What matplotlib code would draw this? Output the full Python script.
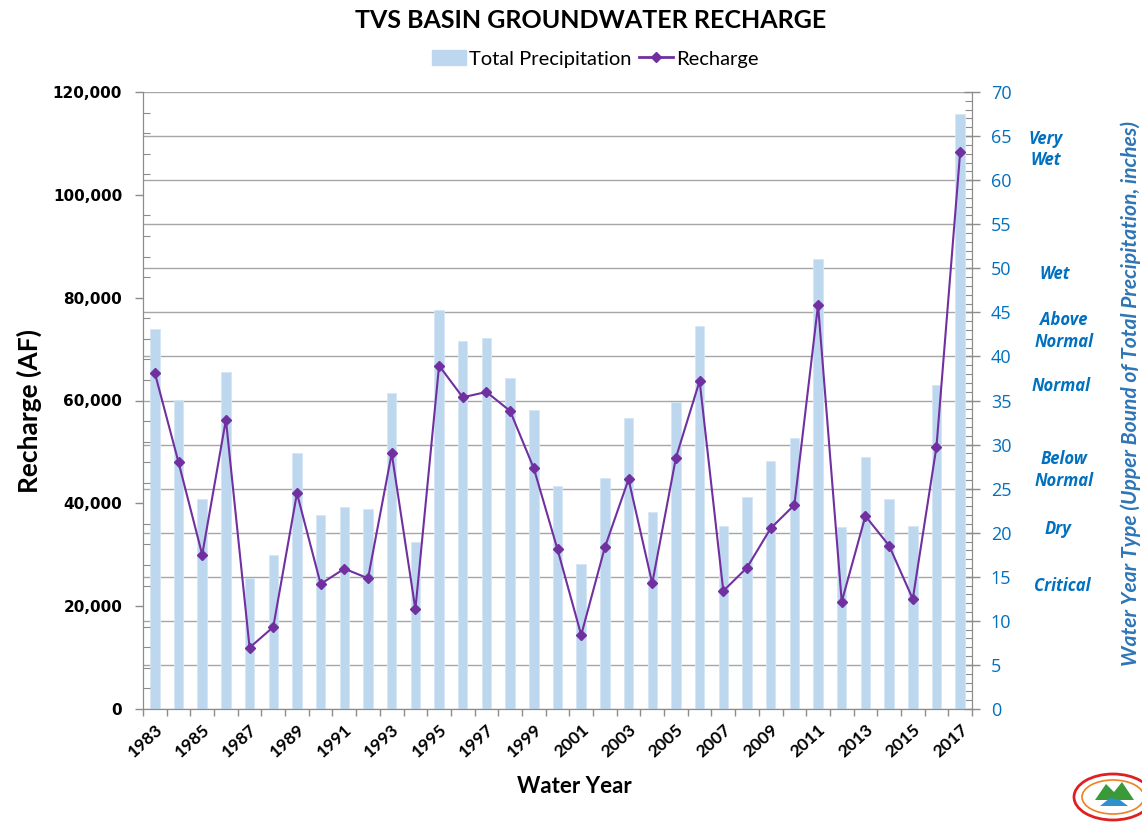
import matplotlib
matplotlib.use('Agg')
import matplotlib.pyplot as plt
from matplotlib.patches import Ellipse, Polygon, Patch
from matplotlib.lines import Line2D
from matplotlib.ticker import FuncFormatter, MultipleLocator, FixedLocator
import numpy as np

# ---------------- data ----------------
years = list(range(1983, 2018))
precip_in = [43.1, 35.1, 23.8, 38.2, 14.9, 17.5, 29.0, 22.0, 22.9, 22.7,
             35.9, 19.0, 45.3, 41.8, 42.1, 37.6, 33.9, 25.3, 16.4, 26.2,
             33.0, 22.4, 34.8, 43.5, 20.8, 24.1, 28.1, 30.7, 51.1, 20.6,
             28.6, 23.8, 20.8, 36.8, 67.5]
recharge_af = [65350, 47980, 30010, 56270, 11930, 15950, 41950, 24310, 27290, 25420,
               49730, 19390, 66780, 60620, 61660, 57960, 46810, 31060, 14390, 31450,
               44670, 24440, 48880, 63800, 22950, 27490, 35140, 39680, 78580, 20870,
               37540, 31770, 21400, 51020, 108280]
year_types = ["Very\nWet", "Wet", "Above\nNormal", "Normal", "Below\nNormal", "Dry", "Critical"]
type_label_y = [63.5, 49.3, 42.9, 36.6, 27.1, 20.4, 14.0]      # right-axis units
type_label_x = [1046, 1055, 1064, 1061, 1064, 1058, 1062]      # centre, pixels

# ---------------- style ----------------
sans = ['Lato', 'DejaVu Sans']
bar_color = "#BDD7EE"
line_color = "#7030A0"
axis_gray = "#8C8C8C"
blue = "#0070C0"

W, H = 1142, 824
fig = plt.figure(figsize=(W / 100, H / 100), dpi=100, facecolor="white")
rect = [143 / W, 1 - 709 / H, (972 - 143) / W, (709 - 92) / H]
ax = fig.add_axes(rect)
ax2 = ax.twinx()
ax.set_zorder(ax2.get_zorder() + 1)
ax.patch.set_visible(False)

x = np.arange(len(years))

# bars on right axis
ax2.bar(x, precip_in, width=0.40, color=bar_color, edgecolor="#D6E6F4", linewidth=0.6, zorder=2)
ax2.set_ylim(0, 70)
ax2.yaxis.set_major_locator(MultipleLocator(5))
ax2.yaxis.set_minor_locator(MultipleLocator(1))
ax2.grid(True, which="major", axis="y", color="#A6A6A6", linewidth=1.0)
ax2.set_axisbelow(True)
ax2.tick_params(axis="y", which="major", direction="inout", length=11, width=1,
                color=axis_gray, labelcolor=blue, labelsize=13, pad=8)
ax2.tick_params(axis="y", which="minor", direction="in", length=5, width=0.8, color=axis_gray)
for lab in ax2.get_yticklabels():
    lab.set_fontfamily("Open Sans")

# recharge line on left axis
ax.plot(x, recharge_af, color=line_color, linewidth=1.5, marker="D", markersize=5.5,
        markerfacecolor=line_color, markeredgecolor=line_color, zorder=5)
ax.set_ylim(0, 120000)
ax.set_xlim(-0.5, len(years) - 0.5)
ax.yaxis.set_major_locator(MultipleLocator(20000))
ax.yaxis.set_minor_locator(MultipleLocator(4000))
ax.yaxis.set_major_formatter(FuncFormatter(lambda v, p: f"{int(v):,}"))
ax.tick_params(axis="y", which="major", direction="out", length=6, width=1,
               color=axis_gray, labelsize=11, pad=9)
ax.tick_params(axis="y", which="minor", direction="in", length=5, width=0.8, color=axis_gray)
for lab in ax.get_yticklabels():
    lab.set_fontweight("bold")
    lab.set_fontfamily("DejaVu Sans")

# x ticks: labels every other year, tick marks between categories
ax.xaxis.set_major_locator(FixedLocator(x[::2]))
ax.set_xticklabels([str(y) for y in years[::2]], rotation=42, ha="right",
                   rotation_mode="anchor", fontsize=12.5, fontweight="bold", family=sans)
ax.xaxis.set_minor_locator(FixedLocator(np.arange(-0.5, len(years), 1.0)))
ax.tick_params(axis="x", which="major", length=0, pad=9)
ax.tick_params(axis="x", which="minor", direction="out", length=5, width=1, color=axis_gray)
ax2.set_xlim(ax.get_xlim())

for a in (ax, ax2):
    for s in a.spines.values():
        s.set_color(axis_gray)
    a.spines["top"].set_visible(False)

# ---------------- text ----------------
fig.text(591 / W, 1 - 20 / H, "TVS BASIN GROUNDWATER RECHARGE", ha="center", va="center",
         fontsize=18, fontweight="bold", family=sans)
ax.set_ylabel("Recharge (AF)", fontsize=19, fontweight="bold", family=sans)
ax.yaxis.set_label_coords(-(143 - 42) / (972 - 143), (709 - 411) / (709 - 92))
ax.set_xlabel("Water Year", fontsize=16, fontweight="bold", family=sans)
ax.xaxis.set_label_coords((574 - 143) / (972 - 143), -(776 - 709) / (709 - 92))

fig.text(1131 / W, 1 - 394 / H, "Water Year Type (Upper Bound of Total Precipitation, inches)",
         rotation=90, ha="center", va="center", fontsize=15.2, fontweight="bold",
         style="italic", color="#2E75B6", family=sans)

for lab, xv, yv in zip(year_types, type_label_x, type_label_y):
    fig.text(xv / W, 1 - (709 - yv * 617 / 70) / H, lab, ha="center", va="center",
             fontsize=12, fontweight="bold", style="italic", color=blue,
             linespacing=1.25, family=['Open Sans', 'DejaVu Sans'])

# legend
handles = [Patch(facecolor=bar_color, edgecolor=bar_color),
           Line2D([0], [0], color=line_color, linewidth=2, marker="D", markersize=5)]
fig.legend(handles, ["Total Precipitation", "Recharge"], loc="center",
           bbox_to_anchor=(595 / W, 1 - 59 / H), ncol=2, frameon=False,
           prop={"family": sans, "size": 14.5}, handlelength=1.7, handletextpad=0.15,
           columnspacing=0.35)

# ---------------- logo ----------------
axl = fig.add_axes([1060 / W, 0, 82 / W, 54 / H])
axl.set_xlim(1060, 1142)
axl.set_ylim(824, 770)
axl.axis("off")
axl.add_patch(Ellipse((1113, 797), 78, 46, facecolor="white", edgecolor="#E02020", linewidth=2))
axl.add_patch(Ellipse((1113, 797), 62, 34, facecolor="none", edgecolor="#F08020", linewidth=1.2))
axl.add_patch(Polygon([(1095, 800), (1106, 784), (1114, 792), (1122, 782), (1134, 800)],
                      closed=True, facecolor="#3A9A3A", edgecolor="none"))
axl.add_patch(Polygon([(1100, 806), (1110, 798), (1120, 800), (1128, 806)],
                      closed=True, facecolor="#2F8FD0", edgecolor="none"))

fig.savefig("out.png", dpi=100, facecolor="white")
